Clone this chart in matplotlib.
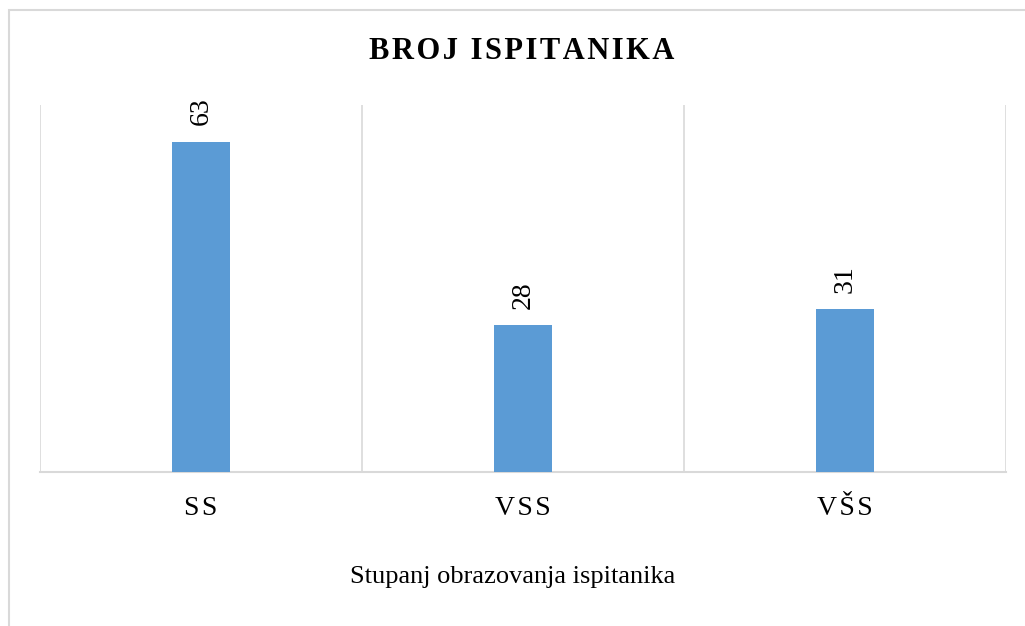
import matplotlib
matplotlib.use("Agg")
import matplotlib.pyplot as plt
from matplotlib.patches import Rectangle

categories = ["SS", "VSS", "VŠS"]
values = [63, 28, 31]
tick_labels = ["S\u200aS", "V\u200aS\u200aS", "V\u200aŠ\u200aS"]
title = "BROJ ISPITANIKA"
xlabel = "Stupanj obrazovanja ispitanika"

plt.rcParams['font.family'] = ['Liberation Serif', 'DejaVu Serif']

fig = plt.figure(figsize=(10.25, 6.26), dpi=100)
fig.patches.append(Rectangle((9/1025, -0.05), 1.1, 1 - 10/626 + 0.05,
                             transform=fig.transFigure, fill=False,
                             edgecolor='#D9D9D9', linewidth=1.5))

ax = fig.add_axes([40/1025, 1 - 472/626, (1006-40)/1025, (472-105)/626])
x = range(len(values))
bars = ax.bar(x, values, width=0.183, color='#5B9BD5', zorder=3)
ax.set_xlim(-0.5, len(values) - 0.5)
ax.set_ylim(0, 70)

for xi, v in zip(x, values):
    ax.annotate(str(v), (xi, v), xytext=(0, 12), textcoords='offset points',
                rotation=90, ha='center', va='bottom', fontsize=20, color='#000000')

for b in [-0.5, 0.5, 1.5, 2.5]:
    ax.axvline(b, color='#D9D9D9', linewidth=1.2, zorder=1)

for s in ['top', 'right', 'left']:
    ax.spines[s].set_visible(False)
ax.spines['bottom'].set_color('#D9D9D9')
ax.spines['bottom'].set_linewidth(1.5)
ax.set_yticks([])
ax.set_xticks(list(x))
ax.set_xticklabels(tick_labels, fontsize=20)
ax.tick_params(axis='x', length=0, pad=17)

spaced_title = "\u200a".join(title)
fig.text(522/1025, 1 - 59/626, spaced_title,
         ha='center', va='baseline', fontsize=22, fontweight='bold')
fig.text(513/1025, 1 - 583/626, xlabel, ha='center', va='baseline', fontsize=19)

fig.savefig("out.png", dpi=100)
